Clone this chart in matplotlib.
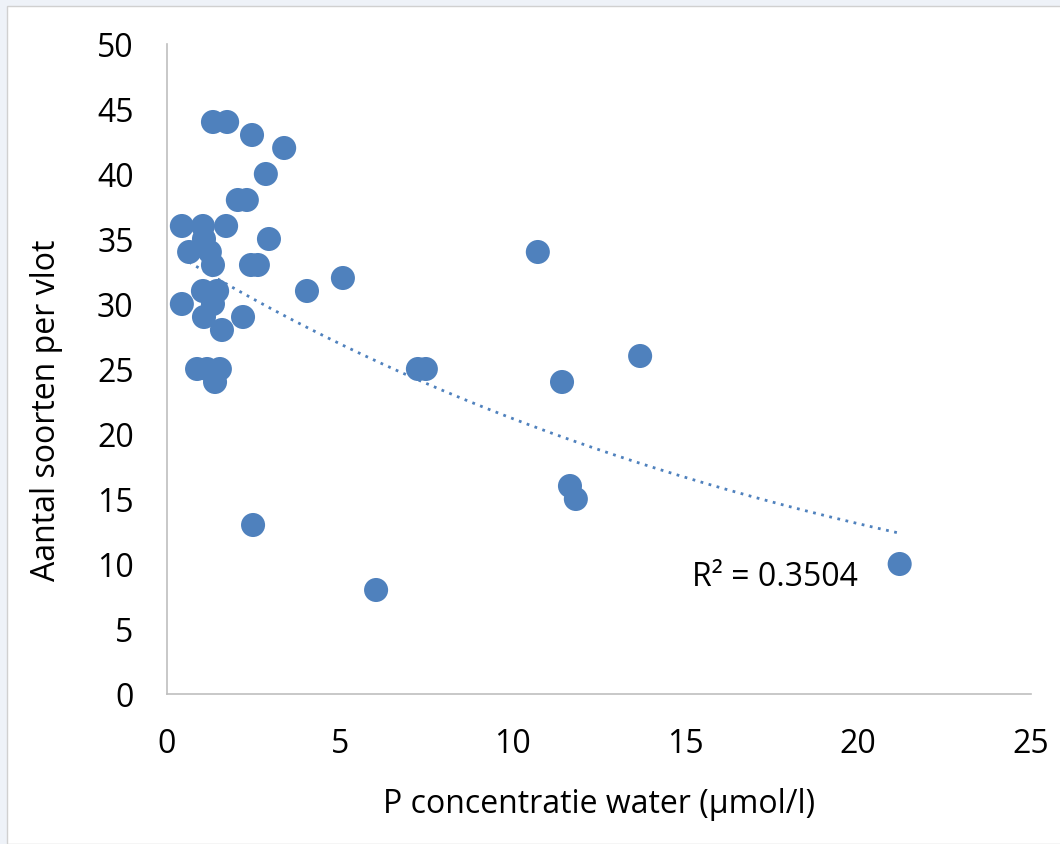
import matplotlib.pyplot as plt
import numpy as np
from matplotlib.patches import Rectangle

# P concentratie (µmol/l) en aantal soorten per vlot
p_conc = [0.43, 0.43, 0.64, 0.87, 1.04, 1.07, 1.04, 1.07, 1.16, 1.24,
          1.33, 1.45, 1.33, 1.53, 1.39, 1.59, 1.71, 1.33, 1.74, 2.05,
          2.31, 2.20, 2.46, 2.49, 2.43, 2.63, 2.86, 2.95, 3.39, 4.05,
          5.09, 6.05, 7.26, 7.49, 10.73, 11.43, 11.66, 11.83, 13.69, 21.2]
soorten = [36, 30, 34, 25, 36, 35, 31, 29, 25, 34,
           33, 31, 30, 25, 24, 28, 36, 44, 44, 38,
           38, 29, 43, 13, 33, 33, 40, 35, 42, 31,
           32, 8, 25, 25, 34, 24, 16, 15, 26, 10]

x_ticks = [0, 5, 10, 15, 20, 25]
y_ticks = [0, 5, 10, 15, 20, 25, 30, 35, 40, 45, 50]
r2_label = "R² = 0.3504"

blue = "#4F81BD"
font = "Open Sans"
fs = 23

fig = plt.figure(figsize=(10.6, 8.45), dpi=100)
fig.patch.set_facecolor("#EEF2F8")
fig.patches.append(Rectangle((7 / 1060, 0), 1, 1 - 7 / 845, transform=fig.transFigure,
                             facecolor="white", edgecolor="#D0D0D0", linewidth=1, zorder=-5))

ax = fig.add_axes([167 / 1060, 1 - 695 / 845, (1031 - 167) / 1060, (695 - 45) / 845])
ax.set_facecolor("none")
ax.set_zorder(2)

ax.scatter(p_conc, soorten, s=300, color=blue, edgecolors="none", zorder=3)

# exponentiele trendlijn (zoals Excel)
x = np.array(p_conc)
y = np.array(soorten)
b, ln_a = np.polyfit(x, np.log(y), 1)
xs = np.linspace(x.min(), x.max(), 200)
ax.plot(xs, np.exp(ln_a + b * xs), linestyle=(0, (1, 2)), color=blue, linewidth=2, zorder=2)

ax.text(15.2, 9.0, r2_label, fontsize=fs, family=font, va="center", ha="left")

ax.set_xlim(0, 25)
ax.set_ylim(0, 50)
ax.set_xticks(x_ticks)
ax.set_yticks(y_ticks)
ax.tick_params(length=0, labelsize=fs)
ax.tick_params(axis="y", pad=24)
ax.tick_params(axis="x", pad=24)
for lbl in ax.get_xticklabels() + ax.get_yticklabels():
    lbl.set_family(font)

for side in ["top", "right"]:
    ax.spines[side].set_visible(False)
for side in ["left", "bottom"]:
    ax.spines[side].set_color("#BFBFBF")
    ax.spines[side].set_linewidth(1.2)

ax.set_xlabel("P concentratie water (µmol/l)", fontsize=fs, family=font, labelpad=19)
ax.set_ylabel("Aantal soorten per vlot", fontsize=fs, family=font)
ax.yaxis.set_label_coords(-0.12, 0.438)

plt.savefig("out.png", dpi=100)
plt.close()
